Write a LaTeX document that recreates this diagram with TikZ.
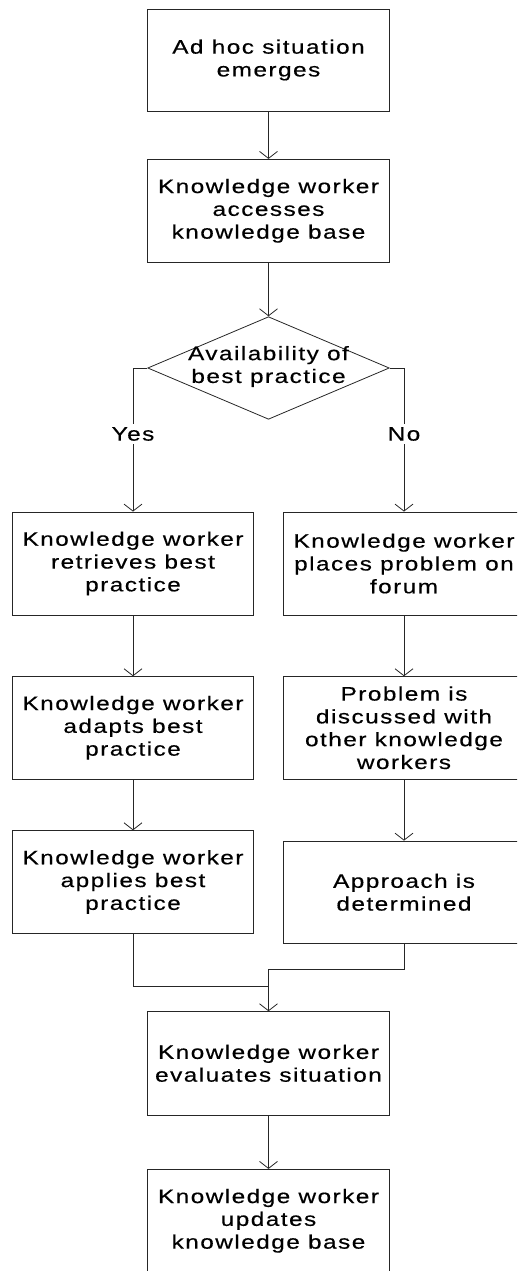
\documentclass[tikz,border=0pt]{standalone}
\usepackage{fontspec}
\setmainfont{Liberation Sans}[FakeStretch=1.25,LetterSpace=7.5,FakeBold=0.4]
\usetikzlibrary{arrows.meta,shapes.geometric}
\tikzset{
  box/.style={draw=black!85,line width=0.8pt,minimum width=241.6pt,inner sep=0pt,align=center,
    font=\fontsize{19.5}{22.8}\selectfont},
  lab/.style={inner sep=0pt,align=center,font=\fontsize{19.5}{22.8}\selectfont},
  conn/.style={draw=black!85,line width=0.8pt},
  arr/.style={conn,-{Straight Barb[length=7pt,width=18pt,line width=0.8pt]}},
}
\begin{document}
\begin{tikzpicture}[x=1pt,y=-1pt]
\useasboundingbox (0,0) rectangle (517,1271);
\clip (0,0) rectangle (517,1271);
\node[box,minimum height=102pt] (b1) at (268.5,60) {Ad hoc situation\\emerges};
\node[box,minimum height=103pt] (b2) at (268.5,210.8) {Knowledge worker\\accesses\\knowledge base};
\node[draw=black!85,line width=0.8pt,shape=diamond,minimum width=241.6pt,minimum height=102.6pt,inner sep=0pt] (dia) at (268.5,368) {};
\node[lab] (diat) at (268.5,366.5) {Availability of\\best practice};
\node[box,minimum height=103pt] (l1) at (133,563.5) {Knowledge worker\\retrieves best\\practice};
\node[box,minimum height=102.3pt] (l2) at (133,727.8) {Knowledge worker\\adapts best\\practice};
\node[box,minimum height=102.6pt] (l3) at (133,882) {Knowledge worker\\applies best\\practice};
\node[box,minimum height=103pt] (r1) at (404,563.5) {Knowledge worker\\places problem on\\forum};
\node[box,minimum height=102.3pt] (r2) at (404,727.8) {Problem is\\discussed with\\other knowledge\\workers};
\node[box,minimum height=102.3pt] (r3) at (404,892.2) {Approach is\\determined};
\node[box,minimum height=103.3pt] (ev) at (268.5,1063.3) {Knowledge worker\\evaluates situation};
\node[box,minimum height=103pt] (up) at (268.5,1220.8) {Knowledge worker\\updates\\knowledge base};
\coordinate (jl) at (268.5,986.7);
\coordinate (jr) at (268.5,969);
\draw[arr] (b1.south) -- (b2.north);
\draw[arr] (b2.south) -- (dia.north);
\draw[arr] (dia.west) -| (l1.north);
\draw[arr] (dia.east) -| (r1.north);
\node[lab,fill=white,inner ysep=3pt] (yes) at (133,434) {Yes};
\node[lab,fill=white,inner ysep=3pt] (no) at (404,434) {No};
\draw[arr] (l1.south) -- (l2.north);
\draw[arr] (l2.south) -- (l3.north);
\draw[arr] (r1.south) -- (r2.north);
\draw[arr] (r2.south) -- (r3.north);
\draw[conn] (l3.south) |- (jl);
\draw[arr] (r3.south) |- (jr) -- (ev.north);
\draw[arr] (ev.south) -- (up.north);
\end{tikzpicture}
\end{document}
